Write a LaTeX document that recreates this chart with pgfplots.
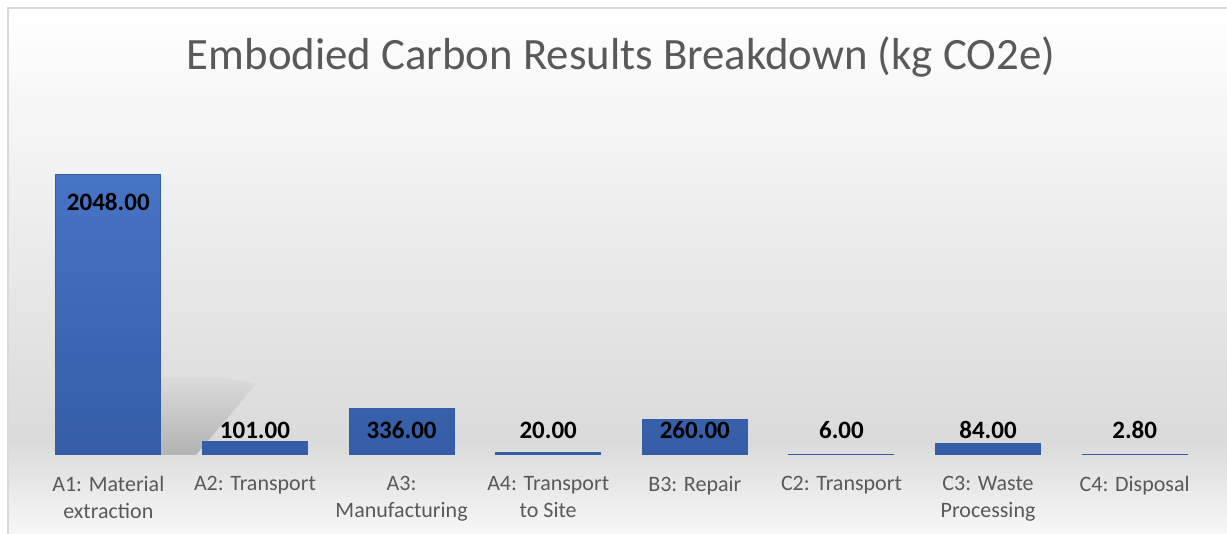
\documentclass[border=0pt]{standalone}
\usepackage{pgfplots}
\pgfplotsset{compat=1.18}
\usepackage{fontspec}
\setmainfont{Carlito}
\definecolor{bgdark}{HTML}{DADADA}
\definecolor{bartop}{HTML}{4674C6}
\definecolor{barbot}{HTML}{355DA7}
\definecolor{txtgray}{HTML}{595959}
\definecolor{frame}{HTML}{D9D9D9}
\begin{document}
\begin{tikzpicture}
\useasboundingbox (0,0) rectangle (613.5pt,267pt);
% background
\shade[top color=white, bottom color=bgdark] (4pt,47pt) rectangle (613.5pt,263pt);
\shade[top color=bgdark, bottom color=white!97!black] (4pt,0pt) rectangle (613.5pt,47pt);
\draw[frame, line width=1pt] (4pt,0pt) -- (4pt,263pt) -- (613.5pt,263pt);
% title
\node[text=txtgray, font=\fontsize{22.4}{27}\selectfont] at (310.5pt,238.5pt) {Embodied Carbon Results Breakdown (kg CO2e)};
% shadow of first bar
\shade[bottom color=black!30, top color=bgdark] (80.5pt,39.5pt) -- (98pt,39.5pt) -- (128pt,75pt) -- (112pt,78pt) -- (80.5pt,78pt) -- cycle;
\begin{axis}[
  at={(17.5pt,39.5pt)}, anchor=south west,
  scale only axis, width=586.5pt, height=167.5pt,
  xmin=-0.5, xmax=7.5, ymin=0, ymax=2441.7,
  axis line style={draw=none},
  ytick=\empty,
  xtick={0,...,7},
  xtick style={draw=none},
  xticklabels={{A1: Material\\extraction},{A2: Transport},{A3:\\Manufacturing},{A4: Transport\\to Site},{B3: Repair},{C2: Transport},{C3: Waste\\Processing},{C4: Disposal}},
  xticklabel style={align=center, text=txtgray, font=\fontsize{11}{13.5}\selectfont, yshift=-7pt},
  clip=false,
]
\addplot[ybar, bar width=52.5pt, draw=barbot, line width=0.5pt, top color=bartop, bottom color=barbot] coordinates {
 (0,2048) (1,101) (2,336) (3,20) (4,260) (5,6) (6,84) (7,2.8)
};
\addplot[draw=none, mark=none, nodes near coords, point meta=explicit symbolic,
  every node near coord/.style={anchor=center, text=black, font=\fontsize{12.5}{15}\selectfont\bfseries}]
  table[meta=lab] {
x y lab
0 1844 2048.00
1 182 101.00
2 182 336.00
3 182 20.00
4 182 260.00
5 182 6.00
6 182 84.00
7 182 2.80
};
\end{axis}
\end{tikzpicture}
\end{document}
